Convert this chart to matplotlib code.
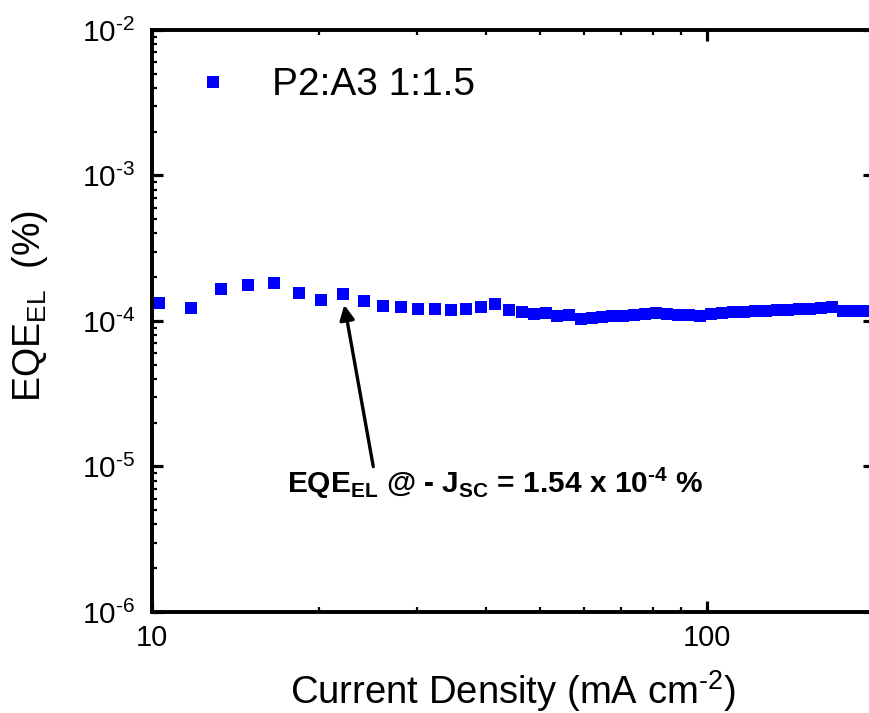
import math
import matplotlib
matplotlib.use("Agg")
import matplotlib.pyplot as plt
from matplotlib.ticker import NullFormatter, LogLocator, FuncFormatter

plt.rcParams['font.family'] = ['Liberation Sans', 'DejaVu Sans']
plt.rcParams['mathtext.fontset'] = 'custom'
plt.rcParams['mathtext.rm'] = 'Liberation Sans'
plt.rcParams['mathtext.it'] = 'Liberation Sans:italic'
plt.rcParams['mathtext.bf'] = 'Liberation Sans:bold'

# current density (mA cm-2) and EQE_EL (%)
jd = [10.31, 11.74, 13.30, 14.92, 16.62, 18.41, 20.20, 22.13, 24.08, 26.06,
      28.11, 30.21, 32.41, 34.60, 36.87, 39.14, 41.48, 43.98, 46.41, 48.77,
      51.26, 53.79, 56.47, 59.28, 62.05, 64.83, 67.58, 70.65, 73.95, 77.41,
      81.02, 84.80, 88.78, 92.93, 97.25, 101.8, 106.6, 111.5, 116.7, 122.2,
      127.9, 133.9, 140.1, 146.7, 153.5, 160.7, 168.2, 176.1, 184.4, 193.0]
eqe = [1.323e-4, 1.223e-4, 1.651e-4, 1.767e-4, 1.815e-4, 1.565e-4, 1.388e-4,
       1.54e-4, 1.379e-4, 1.274e-4, 1.254e-4, 1.203e-4, 1.209e-4, 1.185e-4,
       1.209e-4, 1.248e-4, 1.298e-4, 1.185e-4, 1.159e-4, 1.114e-4, 1.135e-4,
       1.082e-4, 1.094e-4, 1.027e-4, 1.048e-4, 1.071e-4, 1.087e-4, 1.082e-4,
       1.094e-4, 1.122e-4, 1.129e-4, 1.122e-4, 1.099e-4, 1.094e-4, 1.087e-4,
       1.122e-4, 1.140e-4, 1.153e-4, 1.153e-4, 1.171e-4, 1.177e-4, 1.190e-4,
       1.196e-4, 1.203e-4, 1.215e-4, 1.223e-4, 1.254e-4, 1.171e-4, 1.171e-4,
       1.177e-4]

fig = plt.figure(figsize=(8.7, 7.13), dpi=100)
ax = fig.add_axes([0.1747, 0.1417, 0.8295, 0.8163])

ax.plot(jd, eqe, 's', color='#0000ff', markersize=8.6, markeredgewidth=0,
        label='P2:A3 1:1.5')

ax.set_xscale('log')
ax.set_yscale('log')
ax.set_xlim(10, 200)
ax.set_ylim(1e-6, 1e-2)

ax.set_xticks([10, 100])
ax.set_xticklabels(['10', '100'])
ax.xaxis.set_minor_formatter(NullFormatter())
ax.yaxis.set_major_locator(LogLocator(base=10, numticks=10))
ax.yaxis.set_minor_locator(LogLocator(base=10, subs=range(2, 10), numticks=20))
ax.yaxis.set_minor_formatter(NullFormatter())


def sci(v, pos):
    # 10^-n with a short hyphen, as in the original figure
    e = int(round(math.log10(v)))
    return '10$^{\u2010%d}$' % abs(e)


ax.yaxis.set_major_formatter(FuncFormatter(sci))

ax.tick_params(which='both', direction='in', top=True, right=True)
ax.tick_params(axis='x', labelsize=21, pad=9)
ax.tick_params(axis='y', labelsize=21.5, pad=12)
ax.tick_params(which='major', length=8, width=2.3)
ax.tick_params(which='minor', length=3.8, width=1.6)
for s in ax.spines.values():
    s.set_linewidth(2.8)

ax.set_xlabel('Current Density (mA cm$^{\u20102}$)', fontsize=27.5, labelpad=11)
fig.text(30 / 870, 1 - 306 / 713, r'EQE$_{\mathrm{EL}}$  (%)', fontsize=27,
         rotation=90, ha='center', va='center')

ax.legend(loc='center left', bbox_to_anchor=(0.0576, 0.9046), frameon=False,
          fontsize=28, handlelength=1.0, handletextpad=1.02, borderpad=0,
          borderaxespad=0, markerscale=1.0)

ax.annotate('', xy=(22.22, 1.288e-4), xytext=(25.06, 9.97e-6),
            arrowprops=dict(arrowstyle='-|>', lw=2.4, color='black',
                            mutation_scale=22, shrinkA=0, shrinkB=0))
ax.text(17.51, 6.58e-6,
        '$\\mathbf{EQE_{EL}}$ @ - $\\mathbf{J_{SC}}$ = 1.54 x 10$^{\\mathbf{\u20104}}$ %',
        fontsize=21.5, fontweight='bold', ha='left', va='baseline')

fig.savefig('out.png', dpi=100)
